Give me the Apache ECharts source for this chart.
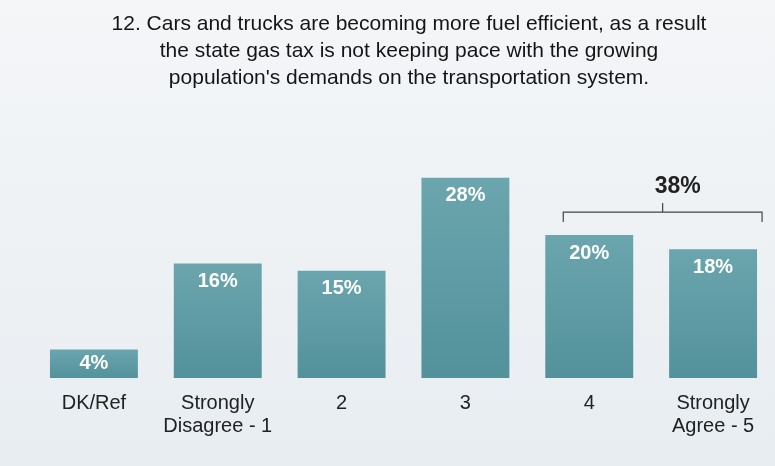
<!DOCTYPE html>
<html>
<head>
    <meta charset="utf-8">
    <title>Fuel efficiency and gas tax</title>
    <script src="https://cdn.jsdelivr.net/npm/echarts@6/dist/echarts.min.js"></script>
    <style>
        html, body { margin: 0; padding: 0; background: #ffffff; }
        #chart { width: 775px; height: 466px; }
    </style>
</head>
<body>
<div id="chart"></div>

<script>
    // 数据
    var categories = ['DK/Ref', 'Strongly\nDisagree - 1', '2', '3', '4', 'Strongly\nAgree - 5'];
    var values = [4, 16, 15, 28, 20, 18];
    var titleLines = [
        '12. Cars and trucks are becoming more fuel efficient, as a result',
        'the state gas tax is not keeping pace with the growing',
        "population's demands on the transportation system."
    ];
    // 括号汇总: 4 + 5
    var bracketFrom = 4, bracketTo = 5;
    var bracketLevel = 23.2;

    var chart = echarts.init(document.getElementById('chart'));

    var barColor = new echarts.graphic.LinearGradient(0, 0, 0, 1, [
        {offset: 0, color: '#6ba5ae'},
        {offset: 1, color: '#53929b'}
    ]);

    var option = {
        backgroundColor: new echarts.graphic.LinearGradient(0, 0, 0, 1, [
            {offset: 0, color: '#f4f6f8'},
            {offset: 1, color: '#e8edf1'}
        ]),
        animation: false,
        title: {
            text: titleLines.join('\n'),
            left: 404,
            top: 6,
            textAlign: 'center',
            textStyle: {
                fontFamily: 'Liberation Sans',
                fontWeight: 'normal',
                fontSize: 21,
                lineHeight: 27,
                color: '#151515'
            }
        },
        grid: {left: 32, right: -1, top: 92, bottom: 88},
        xAxis: {
            type: 'category',
            data: categories,
            axisLine: {show: false},
            axisTick: {show: false},
            axisLabel: {
                interval: 0,
                margin: 14,
                fontFamily: 'Liberation Sans',
                fontSize: 20,
                lineHeight: 23,
                color: '#222'
            }
        },
        yAxis: {
            type: 'value',
            min: 0,
            max: 40,
            show: false
        },
        series: [{
            type: 'bar',
            barWidth: '71%',
            data: values.map(function (v, i) {
                return {
                    value: v,
                    label: i === 0 ? {position: 'inside'} : {}
                };
            }),
            itemStyle: {color: barColor},
            label: {
                show: true,
                position: 'insideTop',
                distance: 8,
                formatter: '{c}%',
                color: '#ffffff',
                fontFamily: 'Liberation Sans',
                fontWeight: 'bold',
                fontSize: 20
            }
        }]
    };
    chart.setOption(option);

    // 括号与合计
    var p1 = chart.convertToPixel({seriesIndex: 0}, [bracketFrom, bracketLevel]);
    var p2 = chart.convertToPixel({seriesIndex: 0}, [bracketTo, bracketLevel]);
    var x1 = p1[0] - 26, x2 = p2[0] + 49, y = p1[1];
    var xm = (x1 + x2) / 2;
    var total = values[bracketFrom] + values[bracketTo];
    chart.setOption({
        graphic: [
            {
                type: 'polyline',
                shape: {points: [[x1, y + 10], [x1, y], [x2, y], [x2, y + 10]]},
                style: {stroke: '#444', lineWidth: 1.2, fill: null}
            },
            {
                type: 'line',
                shape: {x1: xm, y1: y, x2: xm, y2: y - 9},
                style: {stroke: '#444', lineWidth: 1.2}
            },
            {
                type: 'text',
                x: xm + 15,
                y: y - 25,
                style: {
                    text: total + '%',
                    align: 'center',
                    verticalAlign: 'middle',
                    fontFamily: 'Liberation Sans',
                    fontWeight: 'bold',
                    fontSize: 23,
                    fill: '#222'
                }
            }
        ]
    });
</script>
</body>
</html>
